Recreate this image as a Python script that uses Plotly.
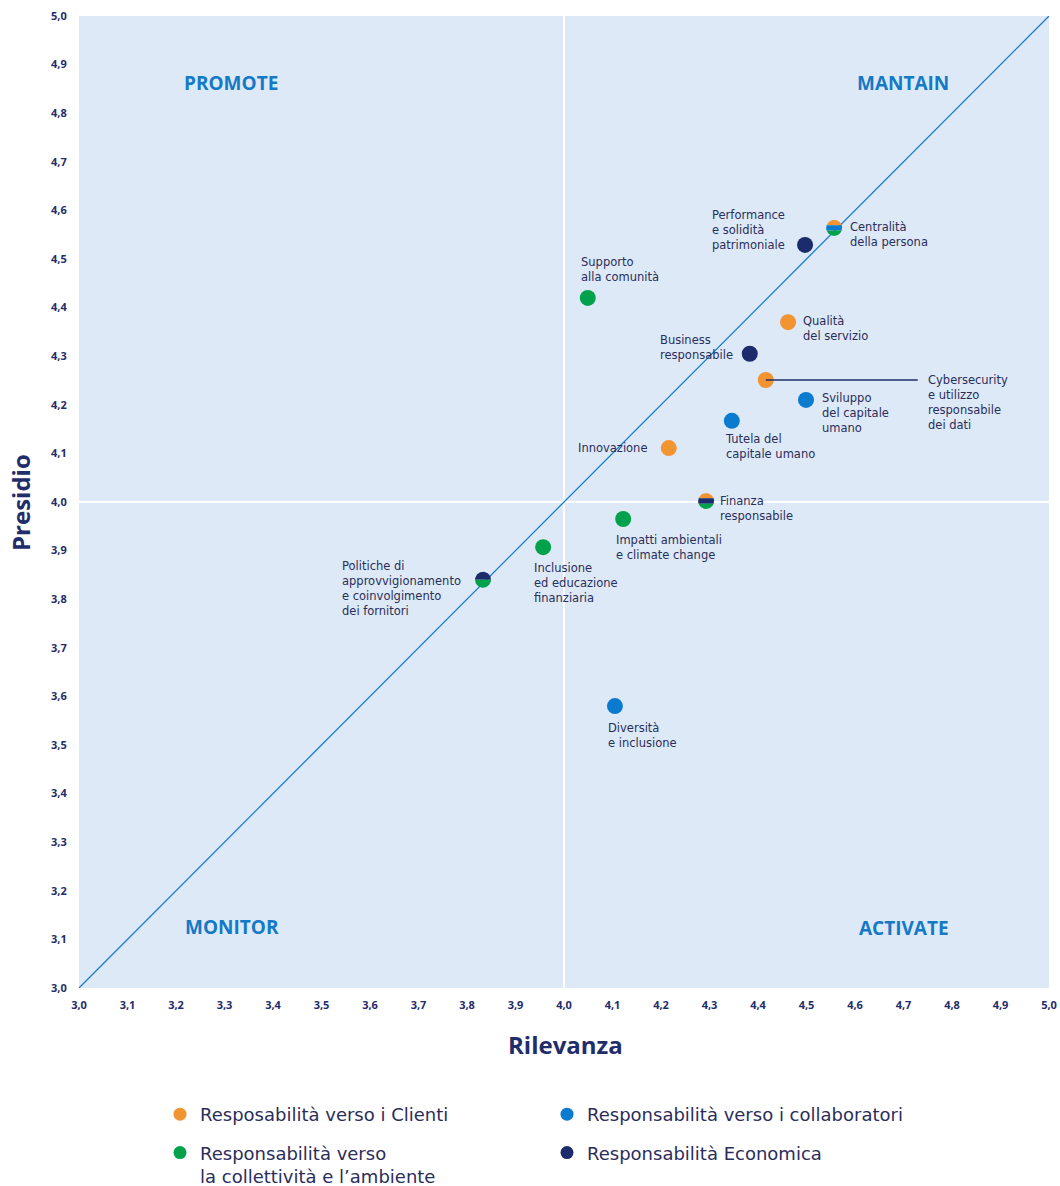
import numpy as np
import plotly.graph_objects as go

# ---------------- data ----------------
categories = ["Clienti", "Collaboratori", "Collettivita", "Economica"]
category_labels = {
    "Clienti": "Resposabilità verso i Clienti",
    "Collaboratori": "Responsabilità verso i collaboratori",
    "Collettivita": "Responsabilità verso<br>la collettività e l’ambiente",
    "Economica": "Responsabilità Economica",
}
category_colors = {
    "Clienti": "#F39433",
    "Collaboratori": "#0B7BCF",
    "Collettivita": "#02A14B",
    "Economica": "#1B2B6B",
}

topics = [
    "Centralità della persona",
    "Performance e solidità patrimoniale",
    "Supporto alla comunità",
    "Qualità del servizio",
    "Business responsabile",
    "Cybersecurity e utilizzo responsabile dei dati",
    "Sviluppo del capitale umano",
    "Tutela del capitale umano",
    "Innovazione",
    "Finanza responsabile",
    "Impatti ambientali e climate change",
    "Inclusione ed educazione finanziaria",
    "Politiche di approvvigionamento e coinvolgimento dei fornitori",
    "Diversità e inclusione",
]
rilevanza = [4.557, 4.497, 4.049, 4.462, 4.383, 4.416, 4.499, 4.346, 4.216, 4.293, 4.122, 3.957, 3.833, 4.105]
presidio = [4.564, 4.529, 4.420, 4.370, 4.305, 4.251, 4.210, 4.167, 4.111, 4.002, 3.965, 3.907, 3.840, 3.580]
topic_groups = [
    ["Clienti", "Collaboratori", "Collettivita"],
    ["Economica"],
    ["Collettivita"],
    ["Clienti"],
    ["Economica"],
    ["Clienti"],
    ["Collaboratori"],
    ["Collaboratori"],
    ["Clienti"],
    ["Clienti", "Economica", "Collettivita"],
    ["Collettivita"],
    ["Collettivita"],
    ["Economica", "Collettivita"],
    ["Collaboratori"],
]
# label text lines
label_lines = [
    ["Centralità", "della persona"],
    ["Performance", "e solidità", "patrimoniale"],
    ["Supporto", "alla comunità"],
    ["Qualità", "del servizio"],
    ["Business", "responsabile"],
    ["Cybersecurity", "e utilizzo", "responsabile", "dei dati"],
    ["Sviluppo", "del capitale", "umano"],
    ["Tutela del", "capitale umano"],
    ["Innovazione"],
    ["Finanza", "responsabile"],
    ["Impatti ambientali", "e climate change"],
    ["Inclusione", "ed educazione", "finanziaria"],
    ["Politiche di", "approvvigionamento", "e coinvolgimento", "dei fornitori"],
    ["Diversità", "e inclusione"],
]
axis_range = [3.0, 5.0]
tick_values = [3.0, 3.1, 3.2, 3.3, 3.4, 3.5, 3.6, 3.7, 3.8, 3.9, 4.0,
               4.1, 4.2, 4.3, 4.4, 4.5, 4.6, 4.7, 4.8, 4.9, 5.0]
tick_text = [f"{v:.1f}".replace(".", ",") for v in tick_values]
quadrants = ["PROMOTE", "MANTAIN", "MONITOR", "ACTIVATE"]

# ---------------- layout constants (pixels) ----------------
W, H = 1060, 1186
ML, MR, MT, MB = 79, 11, 16, 198
PW, PH = W - ML - MR, H - MT - MB
DX = (axis_range[1] - axis_range[0]) / PW   # data per px (x)
DY = (axis_range[1] - axis_range[0]) / PH   # data per px (y)
R_PX = 8.0

LABEL_SIZE = 11.5
PITCH = 1.3 * LABEL_SIZE
# label placement: (xanchor, dx px of text edge, dy px of reference line, index of reference line)
label_place = [
    ("left", 15, -1, 0),
    ("left", -94, 0, 2),
    ("left", -8, -21, 1),
    ("left", 14, -1, 0),
    ("left", -91, 1, 1),
    ("left", 161, 0, 0),
    ("left", 15, -2, 0),
    ("left", -8, 18, 0),
    ("right", -20, 0, 0),
    ("left", 13, 0, 0),
    ("left", -8, 21, 0),
    ("left", -10, 21, 0),
    ("left", -142, 1, 1),
    ("left", -8, 22, 0),
]
TEXT_COLOR = "#2B2D5A"
NAVY = "#1F2D6B"
FONT = "Open Sans"
BODY_FONT = "DejaVu Sans"

fig = go.Figure()

# diagonal reference line y = x
fig.add_trace(go.Scatter(
    x=axis_range, y=axis_range, mode="lines",
    line=dict(color="#1A7BD0", width=1.3),
    hoverinfo="skip", showlegend=False,
))

# single-colour points
for cat in categories:
    xs = [x for x, g in zip(rilevanza, topic_groups) if g == [cat]]
    ys = [y for y, g in zip(presidio, topic_groups) if g == [cat]]
    tx = [t for t, g in zip(topics, topic_groups) if g == [cat]]
    fig.add_trace(go.Scatter(
        x=xs, y=ys, mode="markers", text=tx,
        marker=dict(size=2 * R_PX, color=category_colors[cat], line=dict(width=0)),
        hovertemplate="%{text}<extra></extra>", showlegend=False,
    ))


def band_polygon(cx, cy, s0, s1, n=24):
    """band of a circle between normalized heights s0 < s1 (in [-1, 1])."""
    a0, a1 = np.arcsin(s0), np.arcsin(s1)
    th_r = np.linspace(a0, a1, n)
    th_l = np.linspace(np.pi - a1, np.pi - a0, n)
    th = np.concatenate([th_r, th_l])
    px = cx + R_PX * DX * np.cos(th)
    py = cy + R_PX * DY * np.sin(th)
    return np.append(px, px[0]), np.append(py, py[0])


# multi-colour points (horizontal stripes, first colour on top)
for x, y, g, t in zip(rilevanza, presidio, topic_groups, topics):
    if len(g) < 2:
        continue
    n = len(g)
    for i, cat in enumerate(g):
        s1 = 1 - 2 * i / n
        s0 = 1 - 2 * (i + 1) / n
        bx, by = band_polygon(x, y, s0, s1)
        fig.add_trace(go.Scatter(
            x=bx, y=by, mode="lines", fill="toself",
            fillcolor=category_colors[cat], line=dict(width=0),
            hoverinfo="skip", showlegend=False,
        ))

# legend-only traces (two legends, two columns)
legend_of = {"Clienti": "legend", "Collettivita": "legend",
             "Collaboratori": "legend2", "Economica": "legend2"}
for cat in ["Clienti", "Collettivita", "Collaboratori", "Economica"]:
    fig.add_trace(go.Scatter(
        x=[None], y=[None], mode="markers",
        marker=dict(size=13, color=category_colors[cat]),
        name=category_labels[cat], legend=legend_of[cat], legendgroup=cat,
        showlegend=True,
    ))

annotations = []
# point labels (one multi-line annotation per topic)
for x, y, lines, (anch, dx, ref_dy, ref_idx) in zip(rilevanza, presidio, label_lines, label_place):
    n = len(lines)
    center_dy = ref_dy + ((n - 1) / 2 - ref_idx) * PITCH
    annotations.append(dict(
        x=x, y=y, xref="x", yref="y", text="<br>".join(lines), showarrow=False,
        xanchor=anch, yanchor="middle", align=anch, xshift=dx, yshift=-center_dy,
        borderpad=0, font=dict(family=BODY_FONT, size=LABEL_SIZE, color=TEXT_COLOR),
    ))

# quadrant labels
quad_pos = [(3.313, 4.862), (4.699, 4.862), (3.315, 3.126), (4.700, 3.124)]
for q, (qx, qy) in zip(quadrants, quad_pos):
    annotations.append(dict(
        x=qx, y=qy, xref="x", yref="y", text=f"<b>{q}</b>", showarrow=False,
        xanchor="center", yanchor="middle",
        font=dict(family=FONT, size=19, color="#1479C6"),
    ))

# axis titles
annotations.append(dict(
    x=(565 - ML) / PW, y=-(1044 - (H - MB)) / PH, xref="paper", yref="paper",
    text="<b>Rilevanza</b>", showarrow=False, xanchor="center", yanchor="middle",
    font=dict(family=FONT, size=24, color=NAVY),
))
annotations.append(dict(
    x=-(ML - 20) / PW, y=((H - MB) - 503) / PH, xref="paper", yref="paper",
    text="<b>Presidio</b>", showarrow=False, xanchor="center", yanchor="middle",
    textangle=-90, font=dict(family=FONT, size=24, color=NAVY),
))

# shapes: quadrant dividers and cybersecurity leader line
cyber_i = 5
shapes = [
    dict(type="line", xref="x", yref="paper", x0=4.0, x1=4.0, y0=0, y1=1,
         line=dict(color="white", width=2), layer="below"),
    dict(type="line", xref="paper", yref="y", x0=0, x1=1, y0=4.0, y1=4.0,
         line=dict(color="white", width=2), layer="below"),
    dict(type="line", xref="x", yref="y",
         x0=rilevanza[cyber_i], x1=rilevanza[cyber_i] + 152 * DX,
         y0=presidio[cyber_i], y1=presidio[cyber_i],
         line=dict(color=NAVY, width=1.5), layer="above"),
]

axis_common = dict(
    range=axis_range, tickvals=tick_values, ticktext=tick_text,
    showgrid=False, zeroline=False, showline=False, automargin=False,
    ticks="outside", tickcolor="rgba(0,0,0,0)",
    tickfont=dict(family=FONT, size=11, color=NAVY, weight=700),
    fixedrange=True,
)

legend_common = dict(
    xanchor="left", yanchor="top", orientation="v", tracegroupgap=12,
    valign="top", font=dict(family=BODY_FONT, size=18, color=TEXT_COLOR),
    bgcolor="rgba(0,0,0,0)", itemwidth=30,
)

fig.update_layout(
    width=W, height=H,
    margin=dict(l=ML, r=MR, t=MT, b=MB, pad=0, autoexpand=False),
    paper_bgcolor="white", plot_bgcolor="#DDE9F7",
    xaxis=dict(**axis_common, ticklen=7),
    yaxis=dict(**axis_common, ticklen=9),
    annotations=annotations, shapes=shapes,
    font=dict(family=FONT, color=TEXT_COLOR),
    legend=dict(x=(160 - ML) / PW, y=-(1096 - (H - MB)) / PH, **legend_common),
    legend2=dict(x=(547 - ML) / PW, y=-(1096 - (H - MB)) / PH, **legend_common),
    showlegend=True,
)

fig.write_html(
    "out.html",
    config={"displayModeBar": False},
    post_script="document.body.style.margin='0';document.body.style.overflow='hidden';",
)
